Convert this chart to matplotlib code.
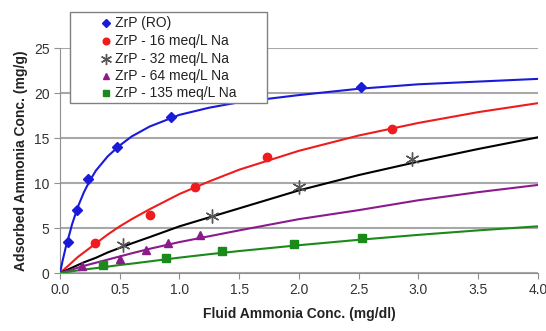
import matplotlib
matplotlib.use("Agg")
import matplotlib.pyplot as plt
from matplotlib.lines import Line2D
from matplotlib.patches import Rectangle

plt.rcParams["font.family"] = ["Liberation Sans", "DejaVu Sans"]

# ── Measured points ────────────────────────────────────────────────────────────
ro_x = [0.07, 0.14, 0.23, 0.48, 0.93, 2.52]
ro_y = [3.5, 7.0, 10.5, 14.0, 17.4, 20.7]

na16_x = [0.29, 0.75, 1.13, 1.73, 2.78]
na16_y = [3.3, 6.5, 9.6, 12.9, 16.0]

na32_x = [0.53, 1.27, 2.00, 2.95]
na32_y = [3.1, 6.4, 9.6, 12.7]

na64_x = [0.18, 0.50, 0.72, 0.90, 1.17]
na64_y = [0.8, 1.6, 2.6, 3.4, 4.2]

na135_x = [0.36, 0.89, 1.36, 1.96, 2.53]
na135_y = [0.9, 1.7, 2.45, 3.25, 3.95]

# ── Fitted curves ────────────────────────────────────────────────────────────
fit_x = [0.0, 0.02, 0.05, 0.08, 0.1, 0.15, 0.2, 0.25, 0.3, 0.4, 0.5, 0.6,
         0.75, 1.0, 1.25, 1.5, 2.0, 2.5, 3.0, 3.5, 4.0]
ro_fit = [0.0, 1.3, 3.0, 4.4, 5.4, 7.4, 9.0, 10.3, 11.4, 13.0, 14.2, 15.2,
          16.3, 17.6, 18.4, 19.0, 19.8, 20.5, 21.0, 21.3, 21.6]
na16_fit = [0.0, 0.25, 0.6, 0.95, 1.2, 1.8, 2.3, 2.8, 3.3, 4.3, 5.2, 6.0,
            7.1, 8.8, 10.2, 11.5, 13.6, 15.3, 16.7, 17.9, 18.9]
na32_fit = [0.0, 0.12, 0.3, 0.48, 0.6, 0.9, 1.2, 1.45, 1.7, 2.3, 2.8, 3.3,
            4.0, 5.2, 6.2, 7.2, 9.2, 10.9, 12.4, 13.8, 15.1]
na64_fit = [0.0, 0.08, 0.2, 0.32, 0.4, 0.6, 0.8, 0.98, 1.15, 1.5, 1.85, 2.2,
            2.7, 3.45, 4.1, 4.75, 6.0, 7.0, 8.1, 9.0, 9.8]
na135_fit = [0.0, 0.04, 0.1, 0.16, 0.2, 0.3, 0.38, 0.47, 0.55, 0.72, 0.9,
             1.05, 1.3, 1.72, 2.1, 2.45, 3.1, 3.7, 4.25, 4.75, 5.2]

labels = ["ZrP (RO)", "ZrP - 16 meq/L Na", "ZrP - 32 meq/L Na",
          "ZrP - 64 meq/L Na", "ZrP - 135 meq/L Na"]

x_ticks = [0.0, 0.5, 1.0, 1.5, 2.0, 2.5, 3.0, 3.5, 4.0]
y_ticks = [0, 5, 10, 15, 20, 25]

# ── Figure ────────────────────────────────────────────────────────────────────
W, H = 546, 331
fig = plt.figure(figsize=(W / 100, H / 100), dpi=100, facecolor="white")
ax = fig.add_axes([0.110, 0.175, 0.875, 0.679])

series = [
    (ro_x, ro_y, ro_fit, "#1a1adb", "D", 5, "#1a1adb"),
    (na16_x, na16_y, na16_fit, "#ee1c1c", "o", 6, "#ee1c1c"),
    (na32_x, na32_y, na32_fit, "black", (6, 2, 0), 10, "#555555"),
    (na64_x, na64_y, na64_fit, "#8b1a8b", "^", 6, "#8b1a8b"),
    (na135_x, na135_y, na135_fit, "#1a8a1a", "s", 6, "#1a8a1a"),
]

for px, py, fy, lc, mk, ms, mc in series:
    ax.plot(fit_x, fy, color=lc, lw=1.5, zorder=3)
    ax.plot(px, py, linestyle="none", marker=mk, ms=ms, color=mc,
            mec=mc, mew=1.0, zorder=4)

ax.set_xlim(0, 4.0)
ax.set_ylim(0, 25)
ax.set_xticks(x_ticks)
ax.set_xticklabels([f"{v:.1f}" for v in x_ticks])
ax.set_yticks(y_ticks)

ax.yaxis.grid(True, color="#a8a8a8", lw=1.5)
ax.set_axisbelow(True)
for s in ["top", "right"]:
    ax.spines[s].set_visible(False)
for s in ["left", "bottom"]:
    ax.spines[s].set_color("#909090")
ax.tick_params(direction="out", length=4, color="#909090",
               labelsize=10, labelcolor="#333333")

ax.set_xlabel("Fluid Ammonia Conc. (mg/dl)", fontsize=10, fontweight="bold",
              color="#222222", labelpad=7)
ax.set_ylabel("Adsorbed Ammonia Conc. (mg/g)", fontsize=10, fontweight="bold",
              color="#222222", labelpad=4)

# ── Legend box drawn by hand (wide left padding like the original) ────────────
fig.add_artist(Rectangle((70 / W, 1 - 103 / H), 197 / W, 91 / H,
                         transform=fig.transFigure, facecolor="white",
                         edgecolor="#808080", lw=1.0, zorder=10))
row_y = [23, 41, 59, 76, 93]
for (px, py, fy, lc, mk, ms, mc), lab, ry in zip(series, labels, row_y):
    fy_ = 1 - ry / H
    fig.add_artist(Line2D([106 / W], [fy_], transform=fig.transFigure,
                          linestyle="none", marker=mk, ms=ms * 0.8, color=mc,
                          mec=mc, mew=1.0, zorder=11))
    fig.text(115 / W, fy_, lab, fontsize=10, color="#222222",
             va="center", ha="left", zorder=11)

fig.savefig("out.png", dpi=100, facecolor="white")
